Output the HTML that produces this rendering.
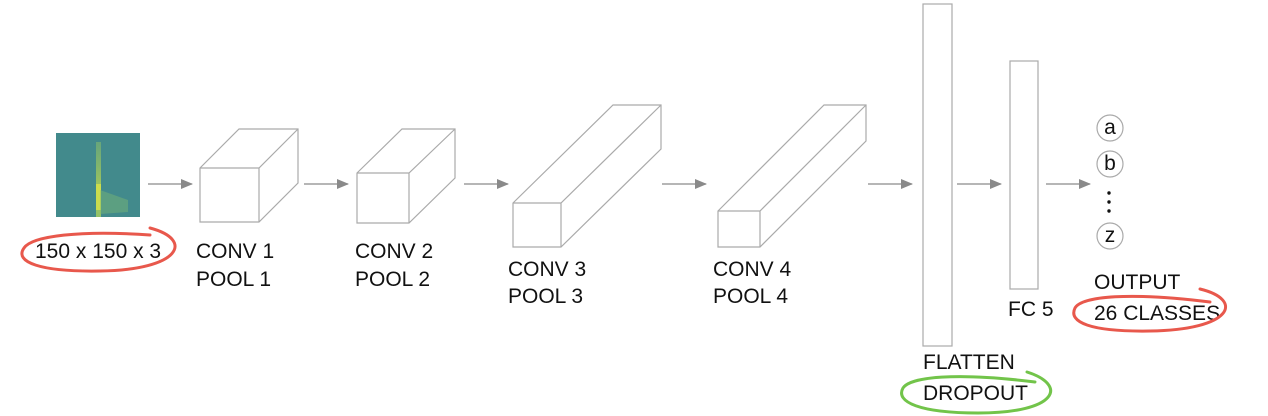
<!DOCTYPE html>
<html><head><meta charset="utf-8"><style>
html,body{margin:0;padding:0;background:#fff;}
svg{display:block;}
text{font-family:"Liberation Sans",sans-serif;fill:#111;font-size:21px;}
</style></head><body>
<svg width="1268" height="416" viewBox="0 0 1268 416" xmlns="http://www.w3.org/2000/svg">
<defs>
<marker id="ah" markerWidth="12" markerHeight="10" refX="11" refY="5" orient="auto" markerUnits="userSpaceOnUse">
<path d="M0,0 L12,5 L0,10 z" fill="#8a8a8a"/>
</marker>
<linearGradient id="yl" x1="0" y1="0" x2="0" y2="1">
<stop offset="0" stop-color="#8cc06a" stop-opacity="0.5"/>
<stop offset="0.6" stop-color="#b8d450" stop-opacity="0.8"/>
<stop offset="1" stop-color="#a8d060" stop-opacity="0.8"/>
</linearGradient>
</defs>
<rect x="56" y="133" width="84" height="84" fill="#448f88"/>
<rect x="56" y="133" width="84" height="84" fill="#3a7a96" opacity="0.25"/>
<rect x="96" y="142" width="5" height="75" fill="url(#yl)"/>
<rect x="96" y="184" width="5" height="26" fill="#d4e04a" opacity="0.85"/>
<path d="M100,190 L128,200 L128,212 L100,214z" fill="#7cb874" opacity="0.45"/>
<g stroke="#8a8a8a" stroke-width="1.3" fill="none">
<line x1="148" y1="184" x2="192" y2="184" marker-end="url(#ah)"/>
<line x1="304" y1="184" x2="348" y2="184" marker-end="url(#ah)"/>
<line x1="464" y1="184" x2="508" y2="184" marker-end="url(#ah)"/>
<line x1="662" y1="184" x2="706" y2="184" marker-end="url(#ah)"/>
<line x1="868" y1="184" x2="912" y2="184" marker-end="url(#ah)"/>
<line x1="957" y1="184" x2="1001" y2="184" marker-end="url(#ah)"/>
<line x1="1046" y1="184" x2="1090" y2="184" marker-end="url(#ah)"/>
</g>
<g stroke="#aaa" stroke-width="1.2" fill="#fff">
<path d="M200,168 L239,129 L298,129 L298,183 L259,222 L200,222 Z"/>
<path d="M200,168 L259,168 L298,129 M259,168 L259,222" fill="none"/>
<path d="M357,173 L402,129 L455,129 L455,178 L409,223 L357,223 Z"/>
<path d="M357,173 L409,173 L455,129 M409,173 L409,223" fill="none"/>
<path d="M513,203 L613,105 L661,105 L661,149 L561,247 L513,247 Z"/>
<path d="M513,203 L561,203 L661,105 M561,203 L561,247" fill="none"/>
<path d="M718,211 L824,105 L866,105 L866,141 L760,247 L718,247 Z"/>
<path d="M718,211 L760,211 L866,105 M760,211 L760,247" fill="none"/>
<rect x="923" y="4" width="29" height="342"/>
<rect x="1010" y="61" width="28" height="228"/>
<circle cx="1110" cy="128" r="13"/>
<circle cx="1110" cy="164" r="13"/>
<circle cx="1110" cy="236" r="13"/>
</g>
<text x="1110" y="134" text-anchor="middle" font-size="18">a</text>
<text x="1110" y="170" text-anchor="middle" font-size="18">b</text>
<text x="1110" y="242" text-anchor="middle" font-size="18">z</text>
<circle cx="1109" cy="193" r="1.7" fill="#111"/>
<circle cx="1109" cy="202" r="1.7" fill="#111"/>
<circle cx="1109" cy="211" r="1.7" fill="#111"/>
<text x="35" y="258">150 x 150 x 3</text>
<text x="196" y="258">CONV 1</text>
<text x="196" y="286">POOL 1</text>
<text x="355" y="258">CONV 2</text>
<text x="355" y="286">POOL 2</text>
<text x="508" y="276">CONV 3</text>
<text x="508" y="303">POOL 3</text>
<text x="713" y="276">CONV 4</text>
<text x="713" y="303">POOL 4</text>
<text x="1008" y="316">FC 5</text>
<text x="1094" y="289">OUTPUT</text>
<text x="1094" y="320">26 CLASSES</text>
<text x="923" y="369">FLATTEN</text>
<text x="923" y="400">DROPOUT</text>
<g fill="none" stroke-width="3" stroke-linecap="round">
<path d="M150,228 C195,240 180,270 100,271 C40,272 14,262 24,248 C32,236 80,230 150,235" stroke="#e8584c"/>
<path d="M1200,289 C1245,300 1232,330 1150,331 C1090,332 1068,322 1075,308 C1082,296 1130,292 1210,302" stroke="#e8584c"/>
<path d="M1027,372 C1068,385 1058,413 978,413 C920,413 895,402 903,388 C910,377 955,372 1035,382" stroke="#72c44a"/>
</g>
</svg>
</body></html>
